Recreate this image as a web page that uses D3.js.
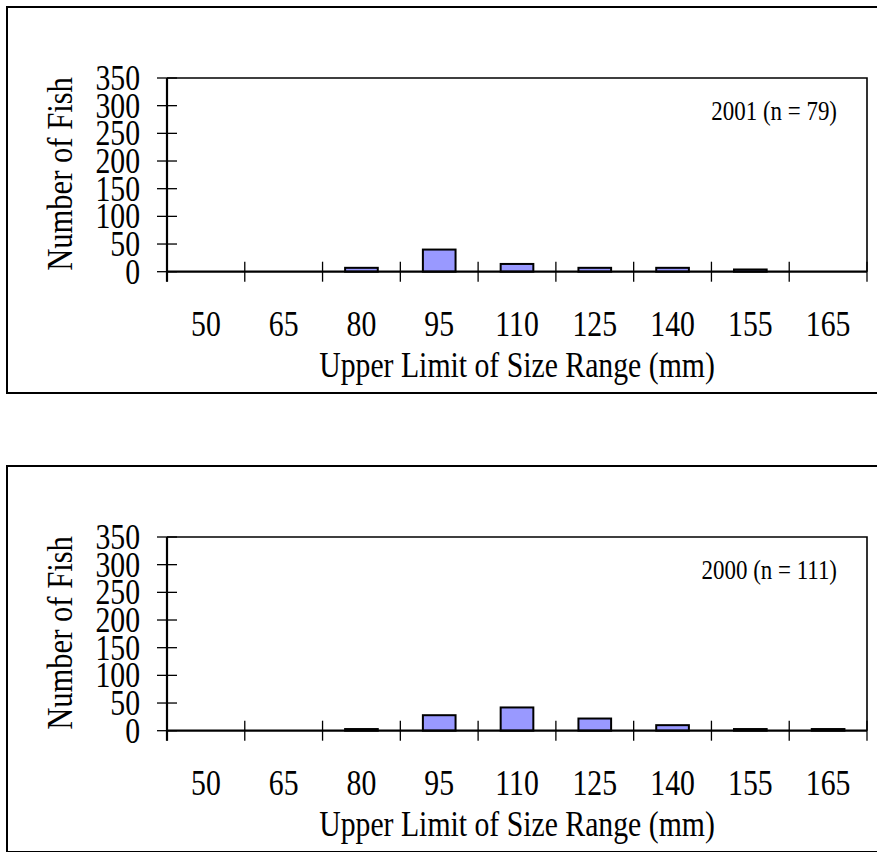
<!DOCTYPE html>
<html>
<head>
<meta charset="utf-8">
<script src="https://cdn.jsdelivr.net/npm/d3@7/dist/d3.min.js"></script>
<style>
  html, body { margin: 0; padding: 0; background: #ffffff; }
  svg { display: block; }
  text { font-family: "Liberation Serif", "Times New Roman", serif; fill: #000; }
</style>
</head>
<body>
<script>
// ---- data ----
const categories = ["50", "65", "80", "95", "110", "125", "140", "155", "165"];
const counts2001 = [0, 0, 7, 40, 14, 7, 7, 4, 0];
const counts2000 = [0, 0, 3, 28, 42, 22, 10, 3, 3];
const panelLabels = ["2001 (n = 79)", "2000 (n = 111)"];
const yTickValues = [0, 50, 100, 150, 200, 250, 300, 350];
const yMax = 350;
const xTitle = "Upper Limit of Size Range (mm)";
const yTitle = "Number of Fish";

const panels = [
  { label: panelLabels[0], values: counts2001 },
  { label: panelLabels[1], values: counts2000 }
];

// ---- layout ----
const W = 877, H = 852;
const panelTops = [7, 466];
const boxH = 386;
const plotL = 167, plotR = 867;
const plotTopOff = 71, baseOff = 264.7;
const sx = 0.85; // horizontal squeeze of text

const svg = d3.select("body").append("svg").attr("width", W).attr("height", H);

const x = d3.scaleBand().domain(categories).range([plotL, plotR])
  .paddingInner(0.58).paddingOuter(0.29);
const xb = d3.scaleLinear().domain([0, categories.length]).range([plotL, plotR]);

function sText(g, tx, ty, str, size, anchor) {
  return g.append("text")
    .attr("transform", `translate(${tx},${ty}) scale(${sx},1)`)
    .attr("text-anchor", anchor)
    .style("font-size", size + "px")
    .text(str);
}

panels.forEach((p, i) => {
  const top = panelTops[i];
  const g = svg.append("g");
  const y = d3.scaleLinear().domain([0, yMax]).range([top + baseOff, top + plotTopOff]);

  // outer box (right edge lies beyond the view)
  g.append("rect").attr("x", 7).attr("y", top).attr("width", 880).attr("height", boxH)
    .attr("fill", "none").attr("stroke", "#000").attr("stroke-width", 2);

  // bars
  g.selectAll("rect.bar").data(p.values.map((v, k) => ({ c: categories[k], v })).filter(d => d.v > 0))
    .join("rect").attr("class", "bar")
    .attr("x", d => x(d.c)).attr("width", x.bandwidth())
    .attr("y", d => y(d.v)).attr("height", d => y(0) - y(d.v))
    .attr("fill", "#9999ff").attr("stroke", "#000").attr("stroke-width", 2);

  // plot frame top + right
  g.append("path")
    .attr("d", `M${plotL},${y(yMax)}H${plotR}V${y(0)}`)
    .attr("fill", "none").attr("stroke", "#000").attr("stroke-width", 1.6);

  // y axis
  const yAxis = d3.axisLeft(y).tickValues(yTickValues).tickSize(0).tickFormat("");
  const ya = g.append("g").attr("transform", `translate(${plotL},0)`).call(yAxis);
  ya.select(".domain").remove();
  g.selectAll("line.yt").data(yTickValues).join("line").attr("class", "yt")
    .attr("x1", plotL - 10).attr("x2", plotL + 10)
    .attr("y1", d => y(d)).attr("y2", d => y(d))
    .attr("stroke", "#000").attr("stroke-width", 1.3);
  g.append("line").attr("x1", plotL).attr("x2", plotL)
    .attr("y1", y(yMax)).attr("y2", y(0) + 10)
    .attr("stroke", "#000").attr("stroke-width", 2.2);
  yTickValues.forEach(v => sText(g, 140, y(v) + 12, String(v), 35, "end"));

  // x axis baseline + boundary ticks
  g.append("line").attr("x1", plotL).attr("x2", plotR)
    .attr("y1", y(0)).attr("y2", y(0))
    .attr("stroke", "#000").attr("stroke-width", 2.2);
  g.selectAll("line.xt").data(d3.range(categories.length + 1)).join("line").attr("class", "xt")
    .attr("x1", d => xb(d)).attr("x2", d => xb(d))
    .attr("y1", y(0) - 10).attr("y2", y(0) + 10)
    .attr("stroke", "#000").attr("stroke-width", 1.3);
  categories.forEach(c => sText(g, x(c) + x.bandwidth() / 2, y(0) + 64, c, 35, "middle"));

  // titles
  sText(g, (plotL + plotR) / 2, top + 370, xTitle, 35, "middle");
  g.append("text")
    .attr("transform", `translate(72,${top + 167}) rotate(-90) scale(${sx},1)`)
    .attr("text-anchor", "middle").style("font-size", "36px").text(yTitle);

  // annotation
  sText(g, 837, top + 113, p.label, 27, "end");
});
</script>
</body>
</html>
